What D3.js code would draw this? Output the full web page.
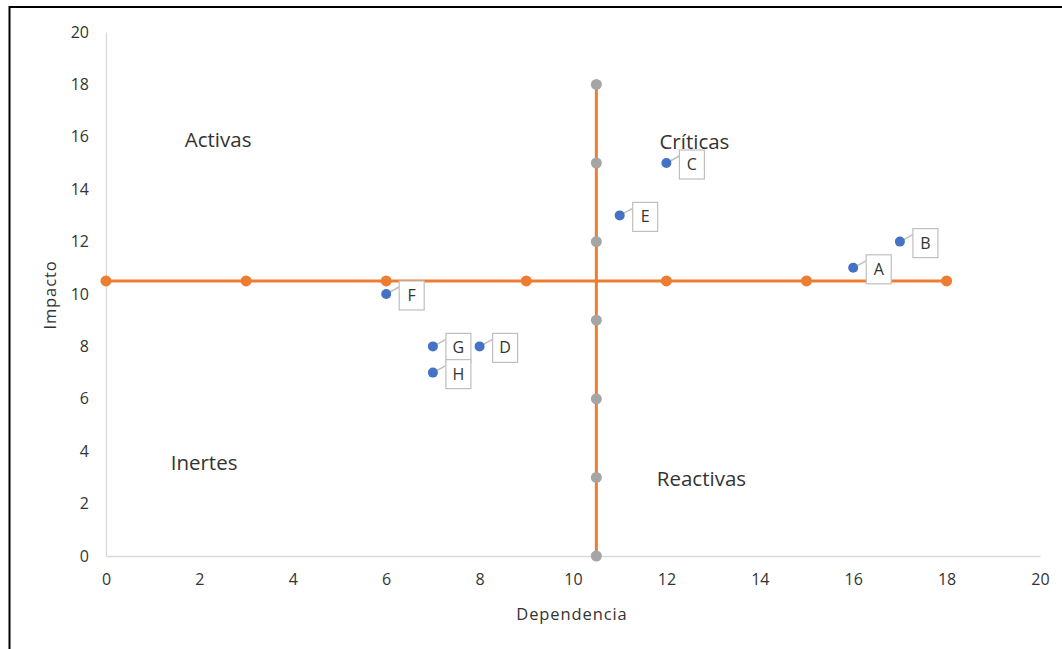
<!DOCTYPE html>
<html><head><meta charset="utf-8">
<script src="https://cdn.jsdelivr.net/npm/d3@7"></script>
<style>body{margin:0;background:#fff;} svg{display:block;font-family:"Open Sans","Liberation Sans",sans-serif;}</style>
</head><body>
<script>
const xTicks = [0,2,4,6,8,10,12,14,16,18,20];
const yTicks = [0,2,4,6,8,10,12,14,16,18,20];
const hLineX = [0,3,6,9,12,15,18];
const hLineY = [10.5,10.5,10.5,10.5,10.5,10.5,10.5];
const vLineX = [10.5,10.5,10.5,10.5,10.5,10.5,10.5];
const vLineY = [0,3,6,9,12,15,18];
const pointNames = ["A","B","C","D","E","F","G","H"];
const pointDep = [16,17,12,8,11,6,7,7];
const pointImp = [11,12,15,8,13,10,8,7];
const quadNames = ["Activas","Críticas","Inertes","Reactivas"];
const quadX = [2.4,12.6,2.1,12.75];
const quadY = [15.9,15.82,3.55,2.95];

const W=1062,H=649;
const txt="#333";
const svg=d3.select("body").append("svg").attr("width",W).attr("height",H);
svg.append("rect").attr("width",W).attr("height",H).attr("fill","#fff");
svg.append("line").attr("x1",9).attr("x2",W).attr("y1",7).attr("y2",7).attr("stroke","#000").attr("stroke-width",2);
svg.append("line").attr("x1",9.5).attr("x2",9.5).attr("y1",6).attr("y2",H).attr("stroke","#000").attr("stroke-width",2);

const x=d3.scaleLinear().domain([0,20]).range([106,1040]);
const y=d3.scaleLinear().domain([0,20]).range([556,32]);

const xAxis=svg.append("g").attr("transform","translate(0,556)").call(d3.axisBottom(x).tickValues(xTicks).tickSize(0).tickPadding(18));
const yAxis=svg.append("g").attr("transform","translate(106,0)").call(d3.axisLeft(y).tickValues(yTicks).tickSize(0).tickPadding(17));
[xAxis,yAxis].forEach(a=>{a.select(".domain").attr("stroke","#d9d9d9").attr("stroke-width",1.3);
 a.selectAll("text").attr("font-size",16).attr("fill",txt).attr("font-family","Open Sans, sans-serif");});

svg.append("text").attr("x",572).attr("y",620).attr("text-anchor","middle").attr("font-size",16.5).attr("letter-spacing",0.9).attr("fill",txt).text("Dependencia");
svg.append("text").attr("transform","translate(56,295) rotate(-90)").attr("text-anchor","middle").attr("font-size",16.5).attr("letter-spacing",0.9).attr("fill",txt).text("Impacto");

const orange="#ED7D31";
const line=d3.line().x(d=>x(d[0])).y(d=>y(d[1]));
const hPts=hLineX.map((v,i)=>[v,hLineY[i]]);
const vPts=vLineX.map((v,i)=>[v,vLineY[i]]);
svg.append("path").attr("d",line(hPts)).attr("fill","none").attr("stroke",orange).attr("stroke-width",3);
svg.append("path").attr("d",line(vPts)).attr("fill","none").attr("stroke",orange).attr("stroke-width",3);
svg.selectAll(".hp").data(hPts).enter().append("circle").attr("cx",d=>x(d[0])).attr("cy",d=>y(d[1])).attr("r",5.5).attr("fill",orange);
svg.selectAll(".vp").data(vPts).enter().append("circle").attr("cx",d=>x(d[0])).attr("cy",d=>y(d[1])).attr("r",5.5).attr("fill","#A5A5A5");

quadNames.forEach((q,i)=>{
  svg.append("text").attr("x",x(quadX[i])).attr("y",y(quadY[i])).attr("text-anchor","middle").attr("dy","0.35em").attr("font-size",20.5).attr("fill",txt).text(q);
});

pointNames.forEach((n,i)=>{
  const px=x(pointDep[i]), py=y(pointImp[i]);
  const bx=px+13, by=py-13, bw=25, bh=29;
  svg.append("line").attr("x1",px).attr("y1",py).attr("x2",bx).attr("y2",by+6).attr("stroke","#bfbfbf").attr("stroke-width",1.5);
  svg.append("rect").attr("x",bx).attr("y",by).attr("width",bw).attr("height",bh).attr("fill","#fff").attr("stroke","#bfbfbf").attr("stroke-width",1.2);
  svg.append("text").attr("x",bx+bw/2).attr("y",by+bh/2+5.5).attr("text-anchor","middle").attr("font-size",16).attr("fill",txt).text(n);
});
svg.selectAll(".bp").data(pointNames).enter().append("circle").attr("cx",(d,i)=>x(pointDep[i])).attr("cy",(d,i)=>y(pointImp[i])).attr("r",5).attr("fill","#4472C4");
</script>
</body></html>
